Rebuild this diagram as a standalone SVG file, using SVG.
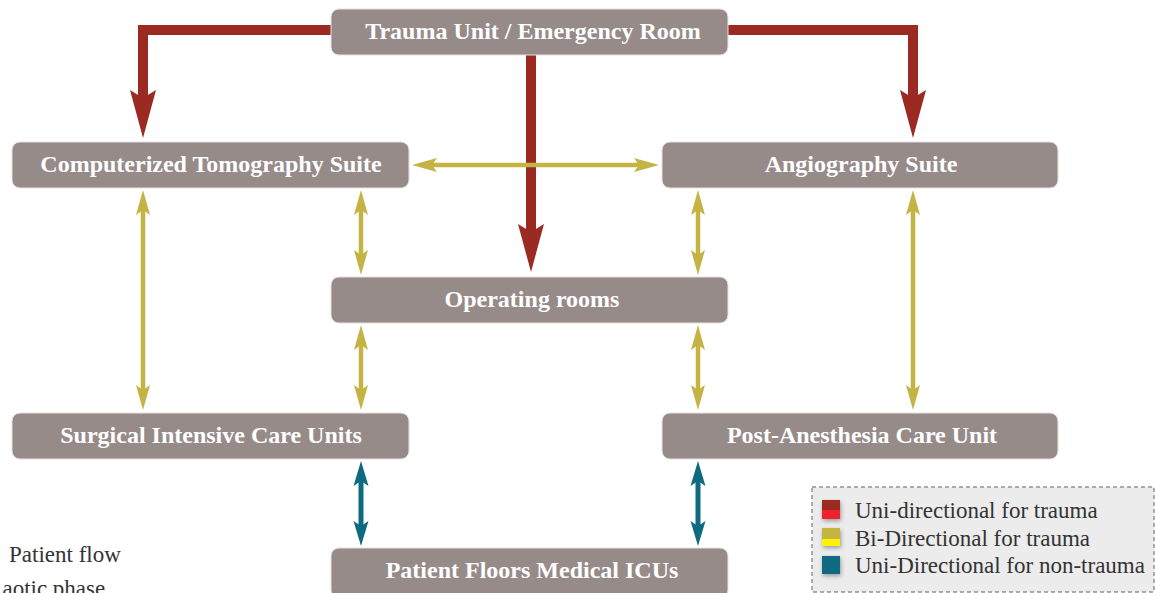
<svg xmlns="http://www.w3.org/2000/svg" width="1155" height="593" viewBox="0 0 1155 593">
<style>
.node rect{fill:#978b8a;stroke:#e6e1e0;stroke-width:1}
.node text{fill:#ffffff;font-family:"Liberation Serif","DejaVu Serif",serif;font-weight:bold;font-size:24px;text-anchor:middle}
.red{fill:none;stroke:#9b2a22;stroke-width:10;stroke-linejoin:miter}
.yel{fill:none;stroke:#c4b443;stroke-width:4.5}
.teal{fill:none;stroke:#0e6a80;stroke-width:5}
.leg{fill:#333333;font-family:"Liberation Serif","DejaVu Serif",serif;font-size:23px}
.cap{fill:#333333;font-family:"Liberation Serif","DejaVu Serif",serif;font-size:23px}
</style>
<defs>
<marker id="mr" markerUnits="userSpaceOnUse" markerWidth="60" markerHeight="30" refX="0" refY="0" orient="auto" overflow="visible">
<path d="M24 0 L-24 -13 L-16 0 L-24 13 Z" fill="#9b2a22"/>
</marker>
<marker id="my" markerUnits="userSpaceOnUse" markerWidth="30" markerHeight="20" refX="0" refY="0" orient="auto-start-reverse" overflow="visible">
<path d="M12 0 L-13 -7 L-8 0 L-13 7 Z" fill="#c4b443"/>
</marker>
<marker id="mt" markerUnits="userSpaceOnUse" markerWidth="30" markerHeight="20" refX="0" refY="0" orient="auto-start-reverse" overflow="visible">
<path d="M12 0 L-13 -7.5 L-8 0 L-13 7.5 Z" fill="#0e6a80"/>
</marker>
<filter id="sh" x="-50%" y="-50%" width="200%" height="200%">
<feDropShadow dx="1" dy="2" stdDeviation="2" flood-color="#000" flood-opacity="0.35"/>
</filter>
</defs>

<g id="connectors">
<path class="red" d="M331 30 H143 V114" marker-end="url(#mr)"/>
<path class="red" d="M728 30 H913 V114" marker-end="url(#mr)"/>
<path class="red" d="M531 55 V248" marker-end="url(#mr)"/>
<path class="yel" d="M424 165 H647" marker-start="url(#my)" marker-end="url(#my)"/>
<path class="yel" d="M143 202 V398" marker-start="url(#my)" marker-end="url(#my)"/>
<path class="yel" d="M913 202 V398" marker-start="url(#my)" marker-end="url(#my)"/>
<path class="yel" d="M361 202 V263" marker-start="url(#my)" marker-end="url(#my)"/>
<path class="yel" d="M361 337 V398" marker-start="url(#my)" marker-end="url(#my)"/>
<path class="yel" d="M698 202 V263" marker-start="url(#my)" marker-end="url(#my)"/>
<path class="yel" d="M698 337 V398" marker-start="url(#my)" marker-end="url(#my)"/>
<path class="teal" d="M361 473 V534" marker-start="url(#mt)" marker-end="url(#mt)"/>
<path class="teal" d="M698 473 V534" marker-start="url(#mt)" marker-end="url(#mt)"/>
</g>

<g id="trauma" class="node"><rect x="331" y="9" width="397" height="46" rx="8"/><text x="533" y="39">Trauma Unit / Emergency Room</text></g>
<g id="ct" class="node"><rect x="12" y="142" width="397" height="46" rx="8"/><text x="211" y="172">Computerized Tomography Suite</text></g>
<g id="angio" class="node"><rect x="662" y="142" width="396" height="46" rx="8"/><text x="861" y="172">Angiography Suite</text></g>
<g id="or" class="node"><rect x="331" y="277" width="397" height="46" rx="8"/><text x="532" y="307">Operating rooms</text></g>
<g id="sicu" class="node"><rect x="12" y="413" width="397" height="46" rx="8"/><text x="211" y="443">Surgical Intensive Care Units</text></g>
<g id="pacu" class="node"><rect x="662" y="413" width="396" height="46" rx="8"/><text x="862" y="443">Post-Anesthesia Care Unit</text></g>
<g id="floors" class="node"><rect x="331" y="548" width="397" height="50" rx="8"/><text x="532" y="578">Patient Floors Medical ICUs</text></g>

<g id="legend">
<rect x="812" y="487" width="342" height="105" fill="#ececec" stroke="#9a8f8e" stroke-width="1.5" stroke-dasharray="4 3"/>
<g filter="url(#sh)">
<rect x="822" y="500" width="18" height="10" fill="#9b2a22"/>
<rect x="822" y="510" width="18" height="9" fill="#ee2229"/>
<rect x="822" y="528" width="18" height="11" fill="#c4b443"/>
<rect x="822" y="539" width="18" height="7" fill="#fff200"/>
<rect x="822" y="556" width="18" height="18" fill="#0e6a80"/>
</g>
<text class="leg" x="855" y="518">Uni-directional for trauma</text>
<text class="leg" x="855" y="546">Bi-Directional for trauma</text>
<text class="leg" x="855" y="573">Uni-Directional for non-trauma</text>
</g>

<g id="caption">
<text class="cap" x="9" y="562">Patient flow</text>
<text class="cap" x="111" y="596" text-anchor="end">aotic phase.</text>
</g>
</svg>
